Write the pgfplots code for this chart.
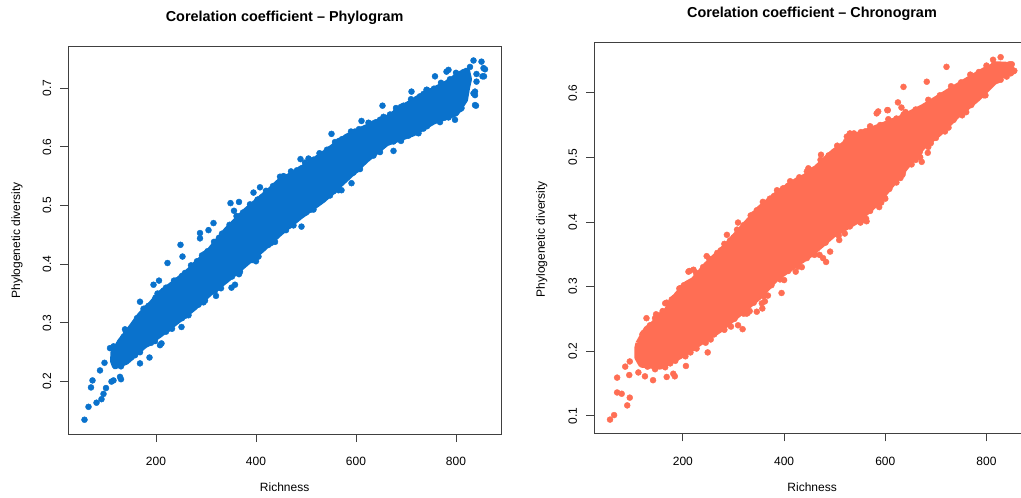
\documentclass[border=0pt]{standalone}
\usepackage{fontspec}
\setmainfont{Liberation Sans}
\usepackage{pgfplots}
\pgfplotsset{compat=1.18}

\definecolor{phyblue}{HTML}{0A72CC}
\definecolor{chrsalmon}{HTML}{FF6E54}

\pgfplotsset{
  rplot/.style={
    scale only axis,
    axis line style={black!75, line width=0.8pt},
    every tick/.style={black!75, line width=0.8pt},
    tick align=outside,
    major tick length=8pt,
    tick pos=left,
    font=\fontsize{12}{14}\selectfont,
    ticklabel style={font=\fontsize{12}{14}\selectfont},
    /pgf/number format/assume math mode=true,
    xticklabel style={anchor=north, yshift=-2.5pt},
    yticklabel style={rotate=90, anchor=south},
    xticklabel shift=9.5pt,
    yticklabel shift=5.5pt,
    every axis title/.style={anchor=center, font=\fontsize{14.4}{17}\selectfont\bfseries},
    xlabel style={anchor=center},
    ylabel style={anchor=center},
  },
  % dense core of the point cloud
  core/.style={fill=#1, draw=#1, line width=6pt, line join=round},
  pts/.style={only marks, mark=*, mark size=3pt, color=#1, mark options={draw=none, fill=#1}},
}

\begin{document}
\begin{tikzpicture}
% ---------------- Phylogram ----------------
\begin{axis}[rplot,
  at={(68.3pt,64pt)}, anchor=south west,
  width=432.7pt, height=387.3pt,
  xmin=24.6, xmax=890, ymin=0.1107, ymax=0.7705,
  xtick={200,400,600,800},
  ytick={0.2,0.3,0.4,0.5,0.6,0.7},
  title={Corelation coefficient \textendash\ Phylogram},
  title style={at={(axis description cs:0.5,1.0741)}},
  xlabel={Richness},
  xlabel style={at={(axis description cs:0.5,-0.1376)}},
  ylabel={Phylogenetic diversity},
  ylabel style={at={(axis description cs:-0.1186,0.5)}},
]
\addplot[core=phyblue] table {
x y
120 0.256
128 0.268
150 0.292
168 0.313
190 0.332
208 0.350
230 0.364
248 0.376
265 0.388
288 0.407
308 0.424
341 0.458
381 0.492
428 0.526
448 0.542
475 0.554
508 0.572
535 0.588
581 0.617
615 0.631
661 0.648
701 0.671
748 0.694
781 0.708
808 0.724
822 0.730
826 0.715
822 0.700
818 0.680
800 0.657
755 0.643
715 0.623
661 0.606
621 0.578
581 0.546
535 0.510
488 0.481
448 0.453
415 0.427
381 0.402
341 0.373
308 0.351
275 0.325
241 0.302
208 0.280
175 0.260
141 0.234
118 0.226
114 0.235
115 0.250
120 0.256
};
% points along the upper edge of the cloud
\addplot[pts=phyblue] table {
x y
135 0.276
140 0.285
158 0.300
162 0.308
175 0.324
180 0.325
185 0.329
199 0.343
203 0.350
215 0.355
220 0.360
236 0.372
240 0.372
252 0.380
258 0.385
270 0.398
276 0.398
282 0.405
292 0.415
298 0.418
303 0.422
316 0.438
322 0.438
326 0.445
332 0.452
347 0.467
356 0.468
361 0.482
368 0.482
374 0.488
388 0.502
395 0.500
403 0.510
412 0.514
420 0.525
434 0.533
438 0.534
455 0.550
462 0.548
470 0.558
482 0.560
490 0.563
498 0.573
515 0.578
520 0.577
527 0.589
542 0.595
548 0.596
558 0.608
566 0.610
572 0.613
590 0.626
598 0.626
606 0.630
625 0.641
635 0.640
640 0.642
648 0.646
655 0.651
668 0.655
680 0.660
680 0.666
690 0.668
695 0.670
710 0.681
722 0.682
728 0.686
735 0.690
742 0.697
756 0.699
765 0.700
770 0.709
788 0.715
795 0.713
800 0.726
815 0.727
828 0.736
};
% points along the lower edge of the cloud
\addplot[pts=phyblue] table {
x y
125 0.230
130 0.226
150 0.241
158 0.245
160 0.250
168 0.250
185 0.265
190 0.266
198 0.269
220 0.285
225 0.290
232 0.290
252 0.308
258 0.312
265 0.313
285 0.331
290 0.336
298 0.338
318 0.355
325 0.360
330 0.359
352 0.379
360 0.385
368 0.387
392 0.407
398 0.412
405 0.413
425 0.433
430 0.436
438 0.438
460 0.458
468 0.466
475 0.466
500 0.488
510 0.493
515 0.493
548 0.517
555 0.524
565 0.526
595 0.556
600 0.560
608 0.562
635 0.585
640 0.594
648 0.591
675 0.609
690 0.612
690 0.610
705 0.619
725 0.623
735 0.631
742 0.635
768 0.642
778 0.650
785 0.650
808 0.664
810 0.666
};
% scattered points away from the core
\addplot[pts=phyblue] table {
x y
57 0.135
65 0.157
81 0.164
91 0.170
95 0.179
100 0.189
70 0.190
73 0.202
88 0.219
97 0.232
111 0.200
115 0.202
108 0.257
115 0.260
138 0.289
168 0.336
195 0.365
206 0.372
223 0.402
253 0.413
249 0.433
128 0.208
130 0.204
168 0.231
187 0.241
208 0.262
211 0.265
251 0.293
295 0.335
320 0.346
351 0.360
358 0.365
366 0.383
365 0.390
400 0.405
148 0.258
288 0.453
288 0.444
305 0.458
315 0.470
349 0.504
366 0.506
356 0.491
395 0.522
408 0.531
448 0.549
489 0.579
505 0.580
491 0.464
551 0.622
653 0.670
611 0.644
675 0.593
571 0.526
591 0.538
841 0.711
856 0.720
858 0.732
851 0.745
835 0.747
838 0.671
835 0.691
838 0.688
798 0.646
781 0.728
758 0.720
711 0.694
741 0.697
811 0.666
785 0.731
821 0.718
841 0.724
855 0.734
853 0.720
838 0.694
840 0.670
};
\end{axis}

% ---------------- Chronogram ----------------
\begin{axis}[rplot,
  at={(594pt,64.7pt)}, anchor=south west,
  width=438pt, height=390.6pt,
  xmin=24.3, xmax=890, ymin=0.0728, ymax=0.6774,
  xtick={200,400,600,800},
  ytick={0.1,0.2,0.3,0.4,0.5,0.6},
  title={Corelation coefficient \textendash\ Chronogram},
  title style={at={(axis description cs:0.4977,1.0727)}},
  xlabel={Richness},
  xlabel style={at={(axis description cs:0.498,-0.1382)}},
  ylabel={Phylogenetic diversity},
  ylabel style={at={(axis description cs:-0.1194,0.497)}},
]
\addplot[core=chrsalmon] table {
x y
112 0.212
128 0.234
141 0.242
168 0.263
188 0.287
207 0.304
221 0.310
247 0.334
287 0.364
313 0.387
352 0.421
392 0.447
425 0.464
451 0.474
497 0.508
543 0.534
583 0.546
629 0.560
675 0.578
721 0.600
761 0.619
794 0.634
820 0.644
845 0.643
850 0.636
836 0.630
813 0.615
781 0.590
741 0.564
708 0.538
675 0.517
642 0.486
616 0.461
583 0.429
543 0.401
497 0.380
451 0.349
418 0.331
385 0.313
352 0.285
313 0.259
273 0.233
234 0.213
194 0.192
155 0.176
118 0.179
110 0.190
110 0.205
112 0.212
};
% points along the upper edge of the cloud
\addplot[pts=chrsalmon] table {
x y
120 0.226
135 0.240
145 0.251
150 0.250
156 0.256
160 0.262
172 0.273
178 0.280
183 0.283
193 0.297
197 0.298
202 0.302
214 0.306
226 0.321
232 0.320
240 0.330
252 0.343
262 0.345
268 0.352
275 0.356
282 0.366
293 0.371
300 0.376
307 0.388
320 0.395
330 0.400
334 0.410
340 0.412
346 0.418
358 0.431
368 0.430
372 0.436
380 0.440
386 0.449
398 0.452
408 0.456
412 0.463
430 0.469
438 0.466
445 0.478
458 0.481
465 0.480
472 0.496
480 0.493
488 0.503
505 0.518
515 0.515
522 0.524
530 0.526
538 0.537
552 0.539
560 0.540
570 0.548
590 0.550
600 0.550
606 0.559
615 0.556
622 0.560
640 0.570
650 0.566
660 0.574
685 0.589
698 0.584
708 0.596
730 0.610
740 0.605
750 0.616
768 0.628
778 0.624
785 0.632
800 0.642
808 0.638
815 0.644
832 0.642
};
% points along the lower edge of the cloud
\addplot[pts=chrsalmon] table {
x y
130 0.176
145 0.172
165 0.175
175 0.181
185 0.185
205 0.192
215 0.198
222 0.205
245 0.213
255 0.218
262 0.226
282 0.233
295 0.238
302 0.250
320 0.258
332 0.262
340 0.275
360 0.285
368 0.286
375 0.302
392 0.311
400 0.310
408 0.324
428 0.331
435 0.330
445 0.344
460 0.349
470 0.349
482 0.368
508 0.379
520 0.382
530 0.393
555 0.403
562 0.405
570 0.417
592 0.430
600 0.436
608 0.451
622 0.461
630 0.468
635 0.477
652 0.489
660 0.496
668 0.508
685 0.516
690 0.522
700 0.530
718 0.540
725 0.546
735 0.558
752 0.565
760 0.570
770 0.581
795 0.596
798 0.596
822 0.619
828 0.620
848 0.630
};
% scattered points away from the core
\addplot[pts=chrsalmon] table {
x y
56 0.094
64 0.101
70 0.159
86 0.176
95 0.184
70 0.136
79 0.134
90 0.116
95 0.128
94 0.163
112 0.167
125 0.161
141 0.155
168 0.160
181 0.165
184 0.161
206 0.177
249 0.198
227 0.204
309 0.240
318 0.234
326 0.258
356 0.274
362 0.277
395 0.290
423 0.323
211 0.323
221 0.326
168 0.275
247 0.347
721 0.640
682 0.617
636 0.609
625 0.585
604 0.573
586 0.571
530 0.537
524 0.532
473 0.504
448 0.483
672 0.493
669 0.500
588 0.423
551 0.399
563 0.401
509 0.372
491 0.354
477 0.344
483 0.338
828 0.655
846 0.644
853 0.633
833 0.641
837 0.641
850 0.644
855 0.634
840 0.625
813 0.651
346 0.261
357 0.266
328 0.259
684 0.507
634 0.473
622 0.470
599 0.437
583 0.568
605 0.573
632 0.577
636 0.566
309 0.399
287 0.380
213 0.324
257 0.338
165 0.274
147 0.257
128 0.251
122 0.228
};
\end{axis}
\pgfresetboundingbox
\useasboundingbox (0,0) rectangle (1021pt,498pt);
\end{tikzpicture}
\end{document}
